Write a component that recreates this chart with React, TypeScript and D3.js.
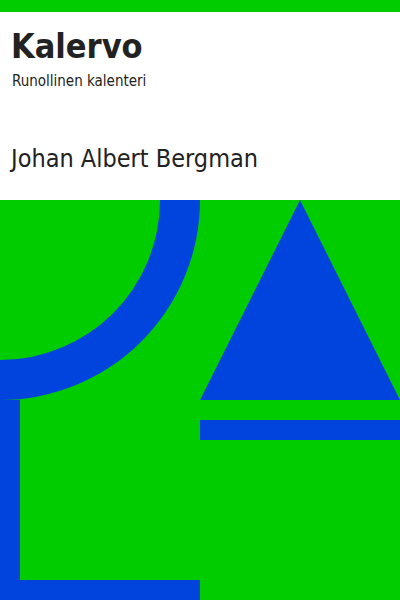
import React from 'react';
import * as d3 from 'd3';

const W = 400;
const H = 600;
const GREEN = '#00cc00';
const BLUE = '#0044dd';

const title = 'Kalervo';
const subtitle = 'Runollinen kalenteri';
const author = 'Johan Albert Bergman';

// [x, y, w, h]
const rects: number[][] = [
  [0, 400, 20, 200],
  [0, 580, 200, 20],
  [200, 420, 200, 20],
];
// ring: [cx, cy, inner, outer, start, end]
const rings: number[][] = [[0, 200, 160, 200, Math.PI / 2, Math.PI]];
const triangles: [number, number][][] = [
  [
    [300, 200],
    [200, 400],
    [400, 400],
  ],
];

const App = () => {
  const arc = d3.arc<any>();
  const line = d3.line();
  return (
    <svg
      width={W}
      height={H}
      style={{ position: 'absolute', left: 0, top: 0 }}
      fontFamily="'DejaVu Sans Condensed', 'DejaVu Sans', sans-serif"
    >
      <rect x={0} y={0} width={W} height={H} fill="#fff" />
      <rect x={0} y={0} width={W} height={12} fill={GREEN} />
      <rect x={0} y={200} width={W} height={400} fill={GREEN} />
      {rings.map(([cx, cy, r0, r1, a0, a1], i) => (
        <path
          key={i}
          transform={`translate(${cx},${cy})`}
          d={arc({ innerRadius: r0, outerRadius: r1, startAngle: a0, endAngle: a1 }) || ''}
          fill={BLUE}
        />
      ))}
      {rects.map(([x, y, w, h], i) => (
        <rect key={i} x={x} y={y} width={w} height={h} fill={BLUE} />
      ))}
      {triangles.map((t, i) => (
        <path key={i} d={(line(t) || '') + 'Z'} fill={BLUE} />
      ))}
      <text x={11} y={58} fontSize={34} fontWeight="bold" fill="#222">
        {title}
      </text>
      <text x={12} y={86} fontSize={15} fill="#222">
        {subtitle}
      </text>
      <text x={11} y={167} fontSize={25} fill="#222">
        {author}
      </text>
    </svg>
  );
};

export default App;
